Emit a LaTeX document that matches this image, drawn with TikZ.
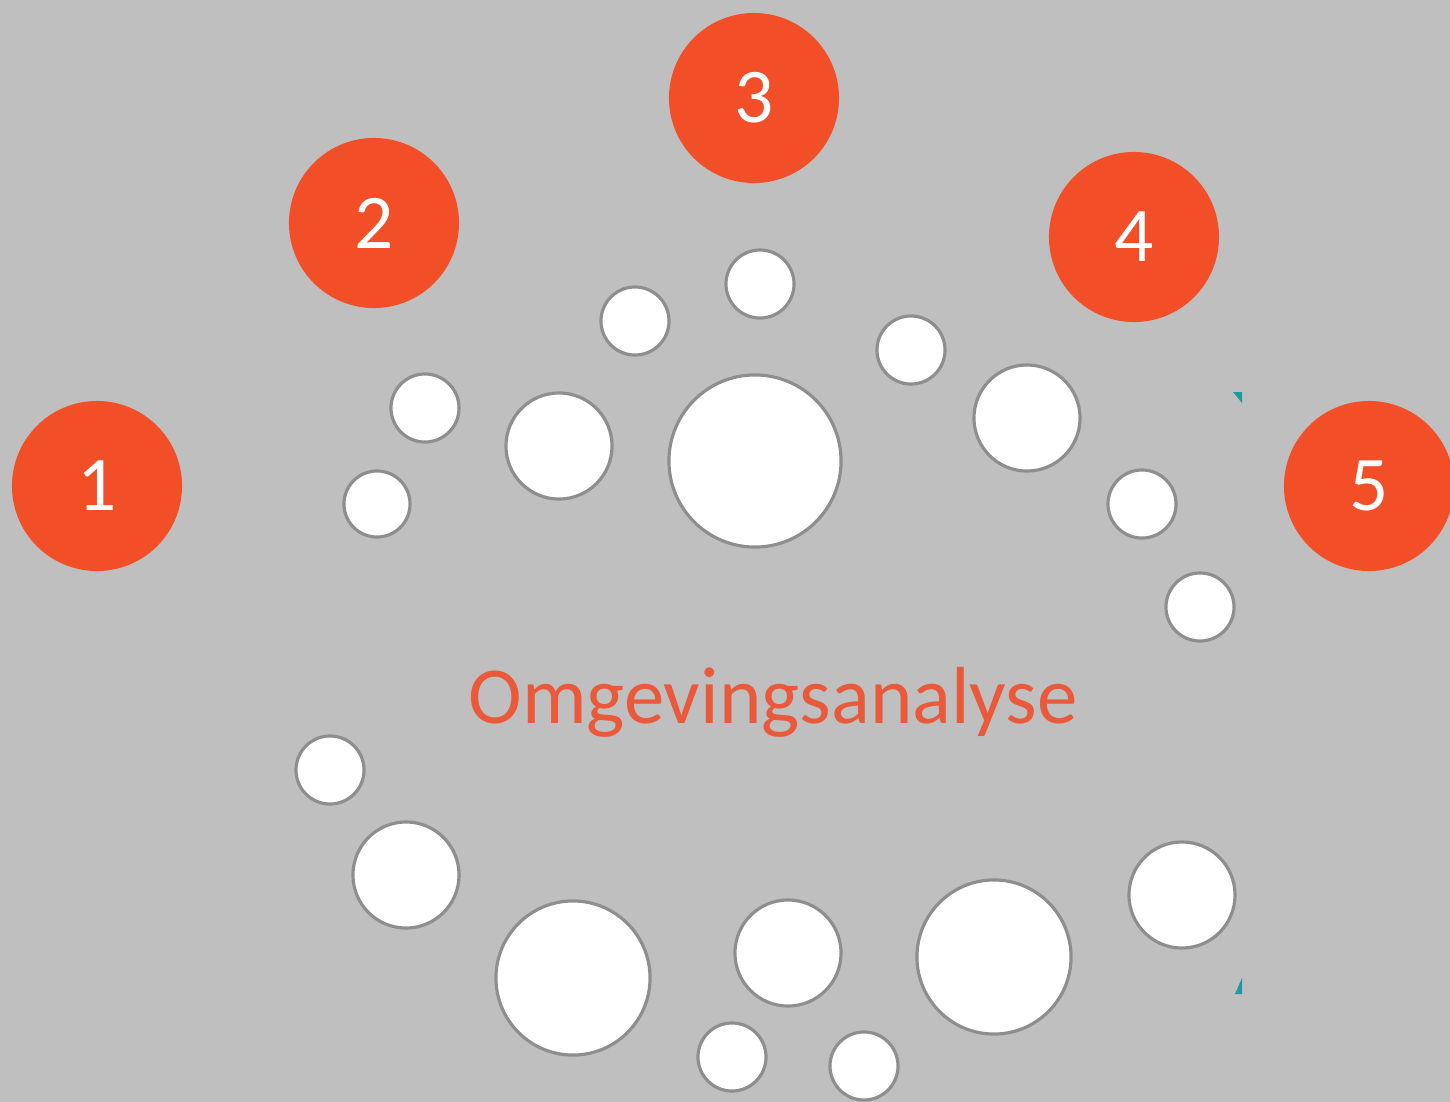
\documentclass[tikz,border=0pt]{standalone}
\usepackage{fontspec}
\setmainfont{Carlito}
\usepackage{xcolor}
\definecolor{bggray}{HTML}{BFBFBF}
\definecolor{numorange}{HTML}{F24E27}
\definecolor{textorange}{HTML}{E9593A}
\definecolor{rimgray}{HTML}{8E8E8E}
\definecolor{markteal}{HTML}{1A9C9E}

\begin{document}
\begin{tikzpicture}[x=0.01cm, y=-0.01cm,
    numcircle/.style={circle, fill=numorange, inner sep=0, minimum size=1.7cm,
        text=white, font=\fontsize{22}{26}\selectfont},
    dot/.style={circle, fill=white, draw=rimgray, line width=0.9pt, inner sep=0}]

        \fill[bggray] (0,0) rectangle (1450,1102);
        \useasboundingbox (0,0) rectangle (1450,1102);
        \clip (0,0) rectangle (1450,1102);

        % white dots round the centre
        \foreach \name/\x/\y/\r in {d1/760/284/34, d2/635/321/34, d3/425/408/34,
            d4/377/504/33, d5/559/446/53, d6/755/461/86, d7/911/350/34,
            d8/1027/418/53, d9/1142/504/34, d10/1200/607/34, d11/330/770/34,
            d12/406/875/53, d13/573/978/77, d14/788/953/53, d15/732/1057/34,
            d16/864/1066/34, d17/994/957/77, d18/1182/895/53}
            \node[dot, minimum size=\r*0.02cm] (\name) at (\x,\y) {};

        % numbered circles
        \node[numcircle] (n1) at (97,486) {1};
        \node[numcircle] (n2) at (374,223) {2};
        \node[numcircle] (n3) at (754,98) {3};
        \node[numcircle] (n4) at (1134,237) {4};
        \node[numcircle] (n5) at (1369,486) {5};

        \node[text=textorange, font=\fontsize{23}{28}\selectfont] (title) at (773,702) {Omgevingsanalyse};

        \fill[markteal] (1233,392) -- (1242,392) -- (1242,403) -- cycle;
        \fill[markteal] (1242,978) -- (1242,994) -- (1235,994) -- cycle;

\end{tikzpicture}
\end{document}
